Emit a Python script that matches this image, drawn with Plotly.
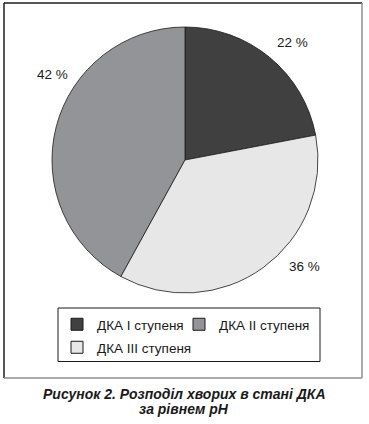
import plotly.graph_objects as go

# ---- data ----
categories = ["ДКА I ступеня", "ДКА II ступеня", "ДКА III ступеня"]
values = [22, 42, 36]
colors = ["#404040", "#939498", "#e7e7e7"]
caption_lines = ["Рисунок 2. Розподіл хворих в стані ДКА", "за рівнем pH"]

# ---- layout helpers (pixel -> paper) ----
W, H = 369, 424
ML, MR, MT, MB = 0, 40, 0, 0
PW, PH = W - ML - MR, H - MT - MB


def px(x):
    return (x - ML) / PW


def py(y):
    return 1 - (y - MT) / PH


# placement (pixel centres / anchors), one per category
label_pos = [(292, 42.5), (52, 74), (304, 266)]
legend_pos = [(57, 309), (179, 309), (57, 332)]

FONT = "Liberation Sans, Arial, sans-serif"
TXT = "#1a1a1a"
EDGE = "#1a1a1a"

fig = go.Figure()
fig.add_trace(go.Pie(
    labels=categories,
    values=values,
    sort=False,
    direction="counterclockwise",
    rotation=0,
    marker=dict(colors=colors, line=dict(color=EDGE, width=0.8)),
    textinfo="none",
    hoverinfo="label+percent",
    domain=dict(x=[px(52), px(318)], y=[py(293), py(27)]),
    showlegend=False,
))

# legend entries (one legend per entry so they sit exactly as in the source)
legend_keys = ["legend", "legend2", "legend3"]
for cat, col, key in zip(categories, colors, legend_keys):
    fig.add_trace(go.Scatter(
        x=[None], y=[None], mode="markers", name=cat,
        marker=dict(symbol="square", size=12, color=col, line=dict(color=EDGE, width=1)),
        legend=key, showlegend=True, hoverinfo="skip",
    ))

annotations = []
for v, (lx, ly) in zip(values, label_pos):
    annotations.append(dict(
        x=px(lx), y=py(ly), xref="paper", yref="paper",
        text=f"{v} %", showarrow=False,
        xanchor="center", yanchor="middle",
        font=dict(family=FONT, size=13.5, color=TXT),
    ))

for i, line in enumerate(caption_lines):
    annotations.append(dict(
        x=px(184), y=py(394 + 15 * i), xref="paper", yref="paper",
        text=line, showarrow=False,
        xanchor="center", yanchor="middle",
        font=dict(family=FONT, size=14, color=TXT, weight="bold", style="italic"),
    ))

shapes = [
    # outer frame (dark top/left, grey bottom/right)
    dict(type="line", xref="paper", yref="paper", x0=px(4), y0=py(3), x1=px(362), y1=py(3),
         line=dict(color="#1e1e1e", width=1.5)),
    dict(type="line", xref="paper", yref="paper", x0=px(4), y0=py(3), x1=px(4), y1=py(378),
         line=dict(color="#1e1e1e", width=1.5)),
    dict(type="line", xref="paper", yref="paper", x0=px(4), y0=py(378), x1=px(362), y1=py(378),
         line=dict(color="#8f8f8f", width=1.5)),
    dict(type="line", xref="paper", yref="paper", x0=px(362), y0=py(3), x1=px(362), y1=py(378),
         line=dict(color="#8f8f8f", width=1.5)),
    # legend box
    dict(type="rect", xref="paper", yref="paper", x0=px(58), y0=py(308), x1=px(320), y1=py(361.5),
         line=dict(color=EDGE, width=1), fillcolor="rgba(0,0,0,0)"),
]

legend_common = dict(
    orientation="h", xanchor="left", yanchor="top",
    bgcolor="rgba(0,0,0,0)", borderwidth=0,
    font=dict(family=FONT, size=13.5, color=TXT),
)
legend_layout = {}
for key, (lx, ly) in zip(legend_keys, legend_pos):
    legend_layout[key] = dict(legend_common, x=px(lx), y=py(ly))

fig.update_layout(
    width=W, height=H,
    margin=dict(l=ML, r=MR, t=MT, b=MB, pad=0),
    paper_bgcolor="white",
    plot_bgcolor="rgba(0,0,0,0)",
    font=dict(family=FONT, color=TXT),
    showlegend=True,
    xaxis=dict(visible=False),
    yaxis=dict(visible=False),
    annotations=annotations,
    shapes=shapes,
    **legend_layout,
)

fig.write_html(
    "out.html",
    config={"displayModeBar": False},
    post_script="document.body.style.margin='0px';",
)
